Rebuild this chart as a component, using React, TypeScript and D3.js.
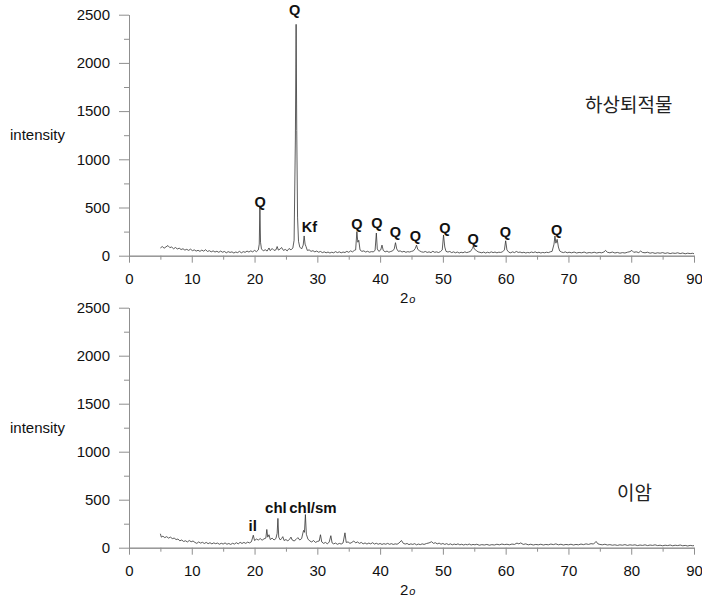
import React, { useEffect, useRef } from 'react';
import * as d3 from 'd3';

// [2θ, intensity]
const sedimentScan: [number, number][] = [
  [5.0, 80], [5.3, 95], [5.6, 78], [5.9, 92], [6.2, 105], [6.5, 84], [6.8, 90], [7.1, 72], [7.4, 85], [7.7, 70],
  [8.0, 78], [8.3, 64], [8.6, 72], [8.9, 58], [9.2, 66], [9.5, 55], [9.8, 68], [10.1, 52], [10.4, 60], [10.7, 48],
  [11.0, 56], [11.3, 45], [11.6, 58], [11.9, 47], [12.2, 62], [12.5, 44], [12.8, 52], [13.1, 40], [13.4, 50], [13.7, 38],
  [14.0, 46], [14.3, 35], [14.6, 48], [14.9, 36], [15.2, 44], [15.5, 30], [15.8, 42], [16.1, 34], [16.4, 40], [16.7, 28],
  [17.0, 38], [17.3, 32], [17.6, 45], [17.9, 30], [18.2, 42], [18.5, 35], [18.8, 48], [19.1, 38], [19.4, 50], [19.7, 40],
  [20.0, 55], [20.3, 42], [20.6, 60], [20.75, 120], [20.85, 505], [20.95, 140], [21.1, 70], [21.4, 50], [21.7, 62], [22.0, 48],
  [22.3, 80], [22.5, 52], [22.8, 75], [23.1, 55], [23.4, 60], [23.6, 95], [23.8, 58], [24.1, 70], [24.3, 85], [24.6, 55],
  [24.9, 65], [25.2, 50], [25.5, 75], [25.8, 60], [26.1, 80], [26.3, 160], [26.5, 1200], [26.62, 2400], [26.72, 1300], [26.85, 400],
  [27.0, 150], [27.2, 90], [27.5, 70], [27.75, 110], [27.9, 205], [28.05, 120], [28.2, 95], [28.4, 55], [28.7, 60], [29.0, 45],
  [29.3, 52], [29.6, 40], [29.9, 48], [30.2, 36], [30.5, 44], [30.8, 32], [31.1, 40], [31.4, 30], [31.7, 38], [32.0, 28],
  [32.3, 36], [32.6, 30], [32.9, 42], [33.2, 32], [33.5, 40], [33.8, 30], [34.1, 38], [34.4, 33], [34.7, 45], [35.0, 35],
  [35.3, 50], [35.6, 40], [35.9, 55], [36.1, 60], [36.3, 250], [36.45, 140], [36.6, 160], [36.8, 60], [37.1, 45], [37.4, 50],
  [37.7, 38], [38.0, 46], [38.3, 36], [38.6, 42], [38.9, 40], [39.2, 55], [39.4, 235], [39.55, 70], [39.8, 45], [40.1, 60],
  [40.3, 110], [40.5, 55], [40.8, 40], [41.1, 48], [41.4, 36], [41.7, 44], [42.0, 50], [42.25, 70], [42.45, 135], [42.65, 70],
  [42.9, 45], [43.2, 50], [43.5, 38], [43.8, 46], [44.1, 35], [44.4, 42], [44.7, 38], [45.0, 45], [45.3, 50], [45.6, 75],
  [45.8, 110], [46.0, 65], [46.3, 50], [46.6, 40], [46.9, 36], [47.2, 44], [47.5, 34], [47.8, 40], [48.1, 32], [48.4, 46],
  [48.7, 35], [49.0, 40], [49.3, 33], [49.6, 42], [49.9, 60], [50.1, 215], [50.3, 90], [50.5, 45], [50.8, 38], [51.1, 44],
  [51.4, 32], [51.7, 40], [52.0, 30], [52.3, 38], [52.6, 28], [52.9, 36], [53.2, 30], [53.5, 40], [53.8, 32], [54.1, 38],
  [54.4, 45], [54.7, 75], [54.85, 100], [55.0, 70], [55.3, 55], [55.6, 40], [55.9, 35], [56.2, 30], [56.5, 38], [56.8, 28],
  [57.1, 36], [57.4, 30], [57.7, 40], [58.0, 32], [58.3, 38], [58.6, 30], [58.9, 36], [59.2, 34], [59.5, 40], [59.8, 60],
  [60.0, 155], [60.2, 60], [60.5, 36], [60.8, 30], [61.1, 40], [61.4, 32], [61.7, 44], [62.0, 34], [62.3, 38], [62.6, 30],
  [62.9, 36], [63.2, 28], [63.5, 34], [63.8, 30], [64.1, 38], [64.4, 32], [64.7, 40], [65.0, 30], [65.3, 36], [65.6, 28],
  [65.9, 34], [66.2, 30], [66.5, 36], [66.8, 32], [67.1, 40], [67.4, 45], [67.7, 120], [67.85, 205], [68.0, 130], [68.2, 170],
  [68.4, 90], [68.6, 50], [68.9, 38], [69.2, 32], [69.5, 40], [69.8, 30], [70.1, 36], [70.5, 30], [70.9, 38], [71.3, 28],
  [71.7, 34], [72.1, 30], [72.5, 38], [72.9, 27], [73.3, 33], [73.7, 29], [74.1, 36], [74.5, 28], [74.9, 34], [75.3, 30],
  [75.7, 40], [75.9, 55], [76.2, 36], [76.6, 30], [77.0, 38], [77.4, 28], [77.8, 34], [78.2, 26], [78.6, 32], [79.0, 28],
  [79.4, 36], [79.8, 42], [80.1, 55], [80.4, 35], [80.8, 40], [81.2, 32], [81.5, 48], [81.8, 34], [82.2, 30], [82.6, 36],
  [83.0, 26], [83.4, 32], [83.8, 24], [84.2, 30], [84.6, 26], [85.0, 32], [85.4, 24], [85.8, 30], [86.2, 22], [86.6, 28],
  [87.0, 24], [87.4, 30], [87.8, 22], [88.2, 28], [88.6, 20], [89.0, 26], [89.4, 22], [89.8, 25], [90.0, 20],
];

const mudstoneScan: [number, number][] = [
  [5.0, 145], [5.15, 110], [5.4, 120], [5.7, 105], [6.0, 115], [6.3, 100], [6.6, 110], [6.9, 95], [7.2, 100], [7.5, 85],
  [7.8, 90], [8.1, 72], [8.4, 80], [8.7, 65], [9.0, 72], [9.3, 60], [9.6, 75], [9.9, 62], [10.2, 70], [10.5, 55],
  [10.8, 45], [11.1, 60], [11.4, 48], [11.7, 56], [12.0, 44], [12.3, 55], [12.6, 42], [12.9, 52], [13.2, 40], [13.5, 50],
  [13.8, 42], [14.1, 48], [14.4, 36], [14.7, 46], [15.0, 38], [15.3, 50], [15.6, 36], [15.9, 44], [16.2, 34], [16.5, 46],
  [16.8, 38], [17.1, 52], [17.4, 40], [17.7, 56], [18.0, 44], [18.3, 55], [18.6, 45], [18.9, 58], [19.2, 50], [19.5, 62],
  [19.8, 130], [20.0, 75], [20.3, 90], [20.6, 80], [20.9, 95], [21.2, 78], [21.5, 92], [21.8, 100], [21.95, 190], [22.1, 110],
  [22.3, 135], [22.5, 85], [22.8, 100], [23.1, 80], [23.4, 95], [23.6, 150], [23.72, 305], [23.85, 110], [24.1, 80], [24.3, 95],
  [24.5, 115], [24.7, 75], [25.0, 85], [25.3, 70], [25.6, 90], [25.8, 110], [26.0, 80], [26.3, 70], [26.6, 85], [26.9, 105],
  [27.2, 80], [27.5, 95], [27.8, 180], [27.95, 160], [28.1, 345], [28.25, 140], [28.5, 90], [28.8, 70], [29.1, 60], [29.4, 75],
  [29.7, 55], [30.0, 65], [30.3, 70], [30.5, 135], [30.7, 60], [31.0, 45], [31.3, 55], [31.6, 40], [31.9, 60], [32.15, 125],
  [32.35, 50], [32.6, 40], [32.9, 48], [33.2, 35], [33.5, 45], [33.8, 38], [34.1, 50], [34.4, 155], [34.6, 55], [34.9, 60],
  [35.2, 45], [35.5, 55], [35.8, 70], [36.1, 50], [36.4, 60], [36.7, 45], [37.0, 55], [37.3, 40], [37.6, 50], [37.9, 38],
  [38.2, 48], [38.5, 40], [38.8, 52], [39.1, 38], [39.4, 46], [39.7, 36], [40.0, 44], [40.3, 34], [40.6, 42], [40.9, 36],
  [41.2, 45], [41.5, 35], [41.8, 42], [42.1, 34], [42.4, 40], [42.7, 36], [43.0, 48], [43.4, 75], [43.7, 45], [44.0, 38],
  [44.3, 44], [44.6, 32], [44.9, 40], [45.2, 34], [45.5, 42], [45.8, 30], [46.1, 38], [46.4, 32], [46.7, 40], [47.0, 34],
  [47.4, 44], [47.8, 50], [48.2, 62], [48.5, 45], [48.8, 52], [49.1, 40], [49.4, 48], [49.7, 36], [50.0, 44], [50.3, 34],
  [50.6, 42], [50.9, 32], [51.2, 40], [51.5, 30], [51.8, 38], [52.1, 32], [52.4, 40], [52.7, 30], [53.0, 36], [53.3, 28],
  [53.6, 35], [53.9, 30], [54.2, 38], [54.5, 28], [54.8, 34], [55.1, 30], [55.4, 36], [55.8, 26], [56.2, 32], [56.6, 28],
  [57.0, 34], [57.4, 26], [57.8, 32], [58.2, 28], [58.6, 36], [59.0, 30], [59.4, 38], [59.8, 32], [60.2, 36], [60.6, 30],
  [61.0, 38], [61.4, 34], [61.8, 48], [62.1, 40], [62.4, 50], [62.8, 34], [63.2, 40], [63.6, 30], [64.0, 36], [64.4, 28],
  [64.8, 34], [65.2, 30], [65.6, 36], [66.0, 28], [66.4, 34], [66.8, 30], [67.2, 38], [67.6, 32], [68.0, 40], [68.4, 30],
  [68.8, 36], [69.2, 28], [69.6, 34], [70.0, 30], [70.4, 36], [70.8, 28], [71.2, 34], [71.6, 30], [72.0, 38], [72.4, 32],
  [72.8, 40], [73.2, 34], [73.6, 42], [74.0, 38], [74.4, 65], [74.7, 40], [75.0, 34], [75.4, 30], [75.8, 36], [76.2, 28],
  [76.6, 32], [77.0, 26], [77.4, 30], [77.8, 24], [78.2, 30], [78.6, 26], [79.0, 32], [79.4, 24], [79.8, 30], [80.2, 26],
  [80.6, 30], [81.0, 22], [81.4, 28], [81.8, 24], [82.2, 30], [82.6, 22], [83.0, 28], [83.4, 24], [83.8, 30], [84.2, 22],
  [84.6, 26], [85.0, 20], [85.4, 26], [85.8, 22], [86.2, 28], [86.6, 20], [87.0, 26], [87.4, 22], [87.8, 28], [88.2, 20],
  [88.6, 24], [89.0, 18], [89.4, 24], [89.8, 20], [90.0, 22],
];

// peak labels: text, 2θ of label centre, intensity at label baseline
const sedimentPeaks: [string, number, number][] = [
  ['Q', 20.9, 507], ['Q', 26.4, 2500], ['Kf', 28.75, 250], ['Q', 36.3, 275], ['Q', 39.5, 285],
  ['Q', 42.45, 198], ['Q', 45.6, 157], ['Q', 50.3, 240], ['Q', 54.8, 118], ['Q', 59.97, 191], ['Q', 68.1, 215],
];
const mudstonePeaks: [string, number, number][] = [
  ['il', 19.7, 177], ['chl', 23.4, 365], ['chl/sm', 29.3, 365],
];

const xMajorTicks = [0, 10, 20, 30, 40, 50, 60, 70, 80, 90];
const xMinorTicks = [5, 15, 25, 35, 45, 55, 65, 75, 85];
const yMajorTicks = [0, 500, 1000, 1500, 2000, 2500];
const yMinorTicks = [250, 750, 1250, 1750, 2250];

const panels = [
  { name: '하상퇴적물', scan: sedimentScan, peaks: sedimentPeaks, top: 14.7, bottom: 255.7, nameX: 585, nameY: 112, peakSize: 14.5 },
  { name: '이암', scan: mudstoneScan, peaks: mudstonePeaks, top: 307.7, bottom: 547.7, nameX: 617, nameY: 500, peakSize: 15 },
];

const FONT = '"Liberation Sans", Arial, sans-serif';

const App = () => {
  const ref = useRef<SVGSVGElement>(null);

  useEffect(() => {
    const svg = d3.select(ref.current);
    svg.selectAll('*').remove();

    const x = d3.scaleLinear().domain([0, 90]).range([129, 694]);

    panels.forEach(p => {
      const y = d3.scaleLinear().domain([0, 2500]).range([p.bottom, p.top]);
      const g = svg.append('g');

      // minor ticks first, then majors with labels
      const xMinor = g.append('g').attr('transform', `translate(0,${p.bottom})`)
        .call(d3.axisBottom(x).tickValues(xMinorTicks).tickSize(4).tickSizeOuter(0).tickFormat(() => ''));
      const xMajor = g.append('g').attr('transform', `translate(0,${p.bottom})`)
        .call(d3.axisBottom(x).tickValues(xMajorTicks).tickSize(7).tickSizeOuter(0).tickPadding(11).tickFormat(d3.format('d')));
      const yMinor = g.append('g').attr('transform', 'translate(129,0)')
        .call(d3.axisLeft(y).tickValues(yMinorTicks).tickSize(5).tickSizeOuter(0).tickFormat(() => ''));
      const yMajor = g.append('g').attr('transform', 'translate(129,0)')
        .call(d3.axisLeft(y).tickValues(yMajorTicks).tickSize(10).tickSizeOuter(0).tickPadding(9).tickFormat(d3.format('d')));

      [xMinor, xMajor, yMinor, yMajor].forEach(a => {
        a.selectAll('path, line').attr('stroke', '#8f8f8f');
        a.selectAll('text').attr('fill', '#111').style('font-family', FONT).style('font-size', '15px');
      });

      const line = d3.line<[number, number]>().x(d => x(d[0])).y(d => y(d[1]));
      g.append('path')
        .datum(p.scan)
        .attr('d', line)
        .attr('fill', 'none')
        .attr('stroke', '#333')
        .attr('stroke-width', 0.8);

      g.selectAll('text.peak')
        .data(p.peaks)
        .enter()
        .append('text')
        .attr('class', 'peak')
        .attr('x', d => x(d[1]))
        .attr('y', d => y(d[2]))
        .attr('text-anchor', 'middle')
        .style('font-family', FONT)
        .style('font-weight', 'bold')
        .style('font-size', `${p.peakSize}px`)
        .attr('fill', '#111')
        .text(d => d[0]);

      g.append('text')
        .attr('x', 10)
        .attr('y', (p.top + p.bottom) / 2 + 5)
        .style('font-family', FONT)
        .style('font-size', '15px')
        .attr('fill', '#111')
        .text('intensity');

      const xt = g.append('text')
        .attr('x', 400)
        .attr('y', p.bottom + 47)
        .style('font-family', FONT)
        .style('font-size', '15px')
        .attr('fill', '#111');
      xt.append('tspan').text('2');
      xt.append('tspan').style('font-style', 'italic').style('font-size', '11px').attr('dx', 1).text('o');

      g.append('text')
        .attr('x', p.nameX)
        .attr('y', p.nameY)
        .style('font-family', '"Noto Sans CJK KR", sans-serif')
        .style('font-size', '19px')
        .attr('fill', '#222')
        .text(p.name);
    });
  }, []);

  return (
    <svg
      ref={ref}
      width={702}
      height={599}
      style={{ position: 'absolute', left: 0, top: 0, background: '#fff' }}
    />
  );
};

export default App;
